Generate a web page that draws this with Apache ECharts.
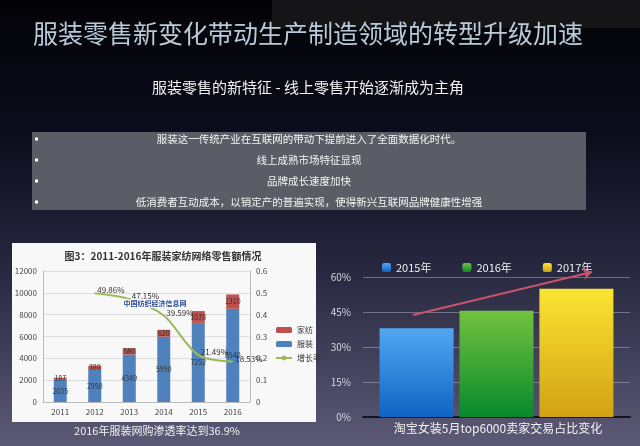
<!doctype html>
<html lang="zh">
<head>
    <meta charset="UTF-8">
    <title>服装零售新变化</title>
    <script src="https://cdn.jsdelivr.net/npm/echarts@6/dist/echarts.min.js"></script>
    <style>
        html, body { margin: 0; padding: 0; background: #050508; }
        #chart { width: 640px; height: 446px; }
    </style>
</head>
<body>
    <div id="chart"></div>

    <script>
        // --- data ---
        const years = ['2011', '2012', '2013', '2014', '2015', '2016'];
        const apparel = [2035, 2950, 4349, 5990, 7252, 8540];
        const homeTextile = [187, 380, 580, 620, 1078, 1310];
        const growth = [null, 0.4986, 0.4715, 0.3959, 0.2149, 0.1853];

        const shareYears = ['2015年', '2016年', '2017年'];
        const shareValues = [38, 45.5, 55];
        const shareColors = [['#52a8f2', '#0f63c4'], ['#72c23e', '#078a2c'], ['#fbe433', '#d2a114']];
        // trend arrow, in a 0-1 frame over the right chart
        const trendArrow = [[0.187, 0.658], [0.858, 0.935]];

        const bullets = [
            '服装这一传统产业在互联网的带动下提前进入了全面数据化时代。',
            '线上成熟市场特征显现',
            '品牌成长速度加快',
            '低消费者互动成本，以销定产的普遍实现，使得新兴互联网品牌健康性增强'
        ];

        const font = '"Noto Sans CJK SC", "Noto Sans", sans-serif';
        const chart = echarts.init(document.getElementById('chart'));

        const graphics = [
            { type: 'rect', shape: { x: 272, y: 0, width: 368, height: 28 }, style: { fill: '#151517' }, z: -1 },
            { type: 'text', x: 33, y: 33, style: { text: '服装零售新变化带动生产制造领域的转型升级加速', fill: '#b9cbd8', font: '25px ' + font, verticalAlign: 'middle' } },
            { type: 'text', x: 308, y: 87, style: { text: '服装零售的新特征 - 线上零售开始逐渐成为主角', fill: '#f2f2f2', font: '15px ' + font, align: 'center', verticalAlign: 'middle' } },
            { type: 'rect', shape: { x: 32, y: 132, width: 554, height: 78 }, style: { fill: '#5b5d66' } },
            // embedded chart picture
            { type: 'rect', shape: { x: 12, y: 243, width: 304, height: 179 }, style: { fill: '#f8f8f8' } },
            { type: 'text', x: 163, y: 256, style: { text: '图3：2011-2016年服装家纺网络零售额情况', fill: '#333', font: 'bold 10px ' + font, align: 'center', verticalAlign: 'middle' } },
            { type: 'text', x: 155, y: 303, z: 50, style: { text: '中国纺织经济信息网', fill: '#2a4a9a', font: 'bold 7px ' + font, align: 'center', verticalAlign: 'middle', stroke: '#fff', lineWidth: 2 } },
            { type: 'text', x: 157, y: 431, style: { text: '2016年服装网购渗透率达到36.9%', fill: '#f2f2f2', font: '11px ' + font, align: 'center', verticalAlign: 'middle' } },
            { type: 'text', x: 498, y: 428, style: { text: '淘宝女装5月top6000卖家交易占比变化', fill: '#f2f2f2', font: '12px ' + font, align: 'center', verticalAlign: 'middle' } }
        ];
        bullets.forEach(function (t, i) {
            const y = 139 + i * 21;
            graphics.push({ type: 'rect', shape: { x: 35, y: y - 1.5, width: 3, height: 3 }, style: { fill: '#fff' } });
            graphics.push({ type: 'text', x: 309, y: y, style: { text: t, fill: '#f4f4f4', font: '10.5px ' + font, align: 'center', verticalAlign: 'middle' } });
        });

        chart.setOption({
            backgroundColor: new echarts.graphic.LinearGradient(0, 0, 0, 1, [
                { offset: 0, color: '#030306' },
                { offset: 0.3, color: '#0c0c1c' },
                { offset: 0.6, color: '#27273f' },
                { offset: 1, color: '#5c5a76' }
            ]),
            textStyle: { fontFamily: font },
            animation: false,
            graphic: graphics,
            legend: [
                {
                    data: ['家纺', '服装', '增长率'],
                    orient: 'vertical', left: 270, top: 321,
                    itemWidth: 16, itemHeight: 6, itemGap: 6,
                    textStyle: { fontSize: 8, color: '#333' }
                },
                {
                    data: shareYears,
                    left: 377, top: 257,
                    itemWidth: 9, itemHeight: 9, itemGap: 31,
                    textStyle: { fontSize: 11, color: '#eee' }
                }
            ],
            grid: [
                { left: 43, right: 390, top: 271, bottom: 44 },
                { left: 363, right: 10, top: 277, bottom: 29 },
                { left: 363, right: 10, top: 262, bottom: 29 }
            ],
            xAxis: [
                {
                    type: 'category', gridIndex: 0, data: years,
                    axisLine: { lineStyle: { color: '#bbb' } }, axisTick: { show: false },
                    axisLabel: { fontSize: 8, color: '#444', margin: 6 }
                },
                {
                    type: 'category', gridIndex: 1, data: [''],
                    axisLine: { lineStyle: { color: '#151520', width: 2 } },
                    axisTick: { show: false }, axisLabel: { show: false }
                },
                { type: 'value', gridIndex: 2, min: 0, max: 1, show: false }
            ],
            yAxis: [
                {
                    type: 'value', gridIndex: 0, min: 0, max: 12000, interval: 2000,
                    axisLine: { show: true, lineStyle: { color: '#bbb' } },
                    axisLabel: { fontSize: 8, color: '#444', margin: 6, formatter: function (v) { return String(v); } },
                    splitLine: { lineStyle: { color: '#ddd' } }
                },
                {
                    type: 'value', gridIndex: 0, min: 0, max: 0.6, interval: 0.1, position: 'right',
                    axisLine: { show: true, lineStyle: { color: '#bbb' } },
                    axisLabel: { fontSize: 8, color: '#444', margin: 6 },
                    splitLine: { show: false }
                },
                {
                    type: 'value', gridIndex: 1, min: 0, max: 60, interval: 15,
                    axisLine: { show: false }, axisTick: { show: false },
                    axisLabel: { formatter: '{value}%', fontSize: 10, color: '#d8d8e0', margin: 12 },
                    splitLine: { lineStyle: { color: 'rgba(190,190,205,0.45)' } }
                },
                { type: 'value', gridIndex: 2, min: 0, max: 1, show: false }
            ],
            series: [
                {
                    name: '服装', type: 'bar', stack: 'total', xAxisIndex: 0, yAxisIndex: 0,
                    data: apparel, barWidth: 13, itemStyle: { color: '#4f81bd' },
                    label: { show: true, position: 'inside', fontSize: 7, color: '#333' }
                },
                {
                    name: '家纺', type: 'bar', stack: 'total', xAxisIndex: 0, yAxisIndex: 0,
                    data: homeTextile, barWidth: 13, itemStyle: { color: '#c0504d' },
                    label: { show: true, position: 'inside', fontSize: 7, color: '#333' }
                },
                {
                    name: '增长率', type: 'line', xAxisIndex: 0, yAxisIndex: 1,
                    data: growth, smooth: 0.3, symbol: 'circle', symbolSize: 1,
                    itemStyle: { color: '#9bbb59' }, lineStyle: { color: '#9bbb59', width: 2 },
                    label: {
                        show: true, position: 'right', distance: 2, offset: [0, -3],
                        fontSize: 8, color: '#333',
                        formatter: function (p) { return (p.value * 100).toFixed(2) + '%'; }
                    }
                }
            ].concat(shareYears.map(function (name, i) {
                return {
                    name: name, type: 'bar', xAxisIndex: 1, yAxisIndex: 2,
                    data: [shareValues[i]], barWidth: 74, barGap: '8%',
                    itemStyle: {
                        color: new echarts.graphic.LinearGradient(0, 0, 0, 1, [
                            { offset: 0, color: shareColors[i][0] },
                            { offset: 1, color: shareColors[i][1] }
                        ])
                    }
                };
            })).concat([{
                type: 'line', xAxisIndex: 2, yAxisIndex: 3, data: [], silent: true,
                markLine: {
                    silent: true, symbol: ['none', 'arrow'], symbolSize: 9,
                    label: { show: false },
                    lineStyle: { color: '#c9536b', width: 2, type: 'solid' },
                    data: [[{ coord: trendArrow[0] }, { coord: trendArrow[1] }]]
                }
            }])
        });
    </script>
</body>
</html>
